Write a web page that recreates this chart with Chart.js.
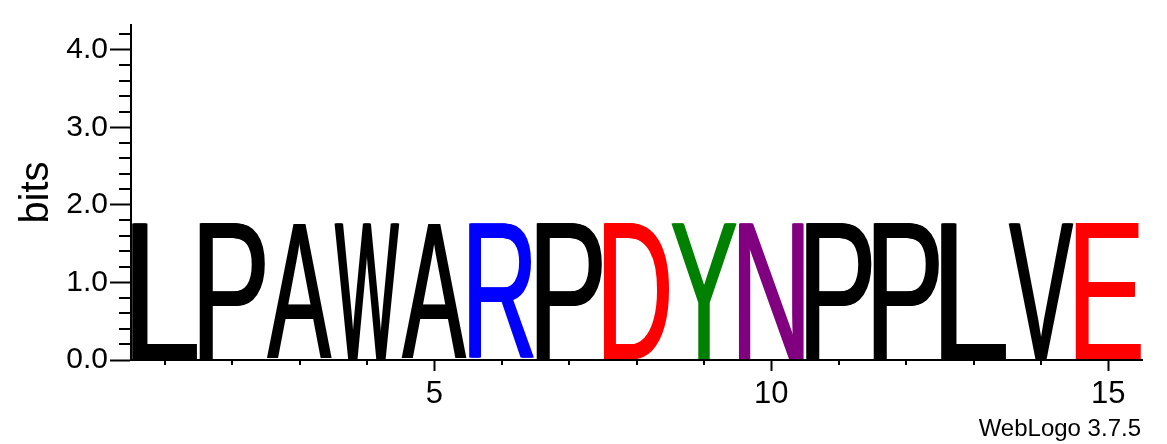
<!DOCTYPE html>
<html>
<head>
<meta charset="utf-8">
<script src="https://cdn.jsdelivr.net/npm/chart.js@4.4.1/dist/chart.umd.min.js"></script>
<style>
  html, body { margin: 0; padding: 0; background: #fff; }
  #wrap { width: 1167px; height: 444px; position: relative; }
</style>
</head>
<body>
<div id="wrap"><canvas id="logo"></canvas></div>
<script>
// sequence logo data
const positions = [1, 2, 3, 4, 5, 6, 7, 8, 9, 10, 11, 12, 13, 14, 15];
const residues = ['L', 'P', 'A', 'W', 'A', 'R', 'P', 'D', 'Y', 'N', 'P', 'P', 'L', 'V', 'E'];
const bits = [1.76, 1.76, 1.76, 1.76, 1.76, 1.76, 1.76, 1.76, 1.76, 1.76, 1.76, 1.76, 1.76, 1.76, 1.76];
const yTicks = [0, 1, 2, 3, 4];
const xTicks = [5, 10, 15];

// weblogo default protein colours
const colorScheme = {
  black: ['A', 'F', 'I', 'L', 'M', 'P', 'V', 'W'],
  green: ['G', 'S', 'T', 'Y', 'C'],
  blue: ['K', 'R', 'H'],
  red: ['D', 'E'],
  purple: ['N', 'Q']
};
const colorOf = function (ch) {
  for (const c in colorScheme) {
    if (colorScheme[c].includes(ch)) return c;
  }
  return 'black';
};

const FONT = '"Liberation Sans", Arial, Helvetica, sans-serif';

const letterPlugin = {
  id: 'letters',
  afterDatasetsDraw(chart) {
    const ctx = chart.ctx;
    const meta = chart.getDatasetMeta(0);
    meta.data.forEach((bar, i) => {
      const ch = residues[i];
      const w = bar.width * 0.97 - 2;
      const h = bar.base - bar.y;
      ctx.save();
      ctx.font = '200px ' + FONT;
      ctx.textBaseline = 'alphabetic';
      ctx.textAlign = 'left';
      const m = ctx.measureText(ch);
      const inkW = m.actualBoundingBoxLeft + m.actualBoundingBoxRight;
      const inkH = m.actualBoundingBoxAscent + m.actualBoundingBoxDescent;
      ctx.fillStyle = colorOf(ch);
      // draw a few times side by side so the strokes get a bit heavier
      [-1, 0, 1].forEach(dx => {
        ctx.save();
        ctx.translate(bar.x - w / 2 + dx, bar.base - 1);
        ctx.scale(w / inkW, h / inkH);
        ctx.fillText(ch, m.actualBoundingBoxLeft, -m.actualBoundingBoxDescent);
        ctx.restore();
      });
      ctx.restore();
    });
  },
  afterDraw(chart) {
    const ctx = chart.ctx;
    const xs = chart.scales.x, ys = chart.scales.y;
    const area = chart.chartArea;
    ctx.save();
    ctx.strokeStyle = '#000';
    ctx.lineWidth = 2;
    ctx.beginPath();
    // minor y ticks every 0.2
    for (let i = 1; i <= 21; i++) {
      if (i % 5 === 0) continue;
      const py = Math.round(ys.getPixelForValue(i / 5));
      ctx.moveTo(area.left - 12, py);
      ctx.lineTo(area.left, py);
    }
    // minor x ticks at every position
    positions.forEach(p => {
      if (xTicks.includes(p)) return;
      const px = Math.round(xs.getPixelForValue(p));
      ctx.moveTo(px, area.bottom);
      ctx.lineTo(px, area.bottom + 5);
    });
    ctx.stroke();
    ctx.fillStyle = '#000';
    ctx.font = '24px ' + FONT;
    ctx.textAlign = 'right';
    ctx.textBaseline = 'alphabetic';
    ctx.fillText('WebLogo 3.7.5', 1141, 436);
    ctx.restore();
  }
};

new Chart(document.getElementById('logo'), {
  type: 'bar',
  data: {
    datasets: [{
      data: positions.map((p, i) => ({ x: p, y: bits[i] })),
      backgroundColor: 'rgba(0,0,0,0)',
      borderWidth: 0,
      barPercentage: 1,
      categoryPercentage: 1
    }]
  },
  options: {
    responsive: true,
    maintainAspectRatio: false,
    animation: false,
    events: [],
    layout: { padding: { left: 0, top: 25, right: 25, bottom: 0 } },
    plugins: { legend: { display: false }, tooltip: { enabled: false } },
    scales: {
      x: {
        type: 'linear',
        min: 0.5,
        max: 15.5,
        offset: false,
        grid: { display: true, drawOnChartArea: false, offset: false, tickLength: 11, tickWidth: 2, tickColor: '#000' },
        border: { display: true, color: '#000', width: 2 },
        afterBuildTicks: scale => { scale.ticks = xTicks.map(v => ({ value: v })); },
        ticks: { color: '#000', font: { family: FONT, size: 31 }, padding: 5, maxRotation: 0 },
        afterFit: scale => { scale.height = 84; }
      },
      y: {
        min: 0,
        max: 4.32,
        grid: { display: true, drawOnChartArea: false, tickLength: 21, tickWidth: 2, tickColor: '#000' },
        border: { display: true, color: '#000', width: 2 },
        afterBuildTicks: scale => { scale.ticks = yTicks.map(v => ({ value: v })); },
        ticks: { color: '#000', font: { family: FONT, size: 30 }, padding: 2, callback: v => v.toFixed(1) },
        title: { display: true, text: 'bits', color: '#000', font: { family: FONT, size: 40 }, padding: { top: 13, bottom: 0 } },
        afterFit: scale => { scale.width = 131; }
      }
    }
  },
  plugins: [letterPlugin]
});
</script>
</body>
</html>
